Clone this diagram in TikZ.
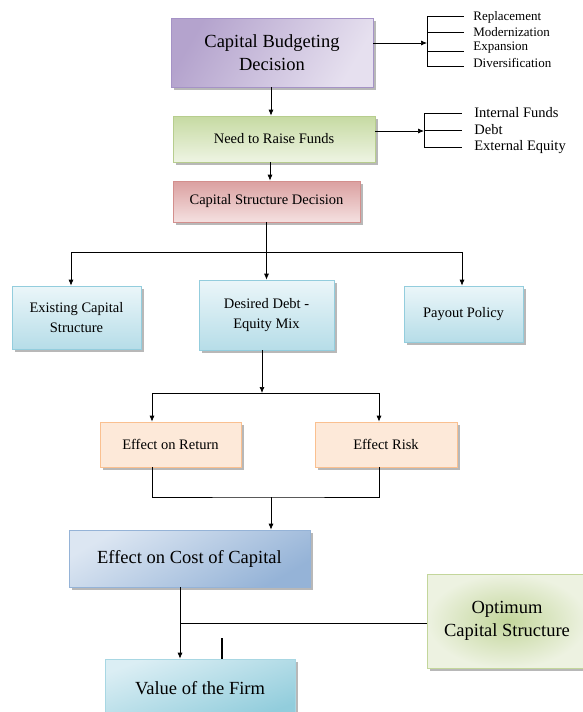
\documentclass[tikz,border=0pt]{standalone}
\usepackage{fontspec}
\setmainfont{Liberation Serif}
\usepackage{tikz}
\usetikzlibrary{shapes,positioning,calc,shadows,arrows.meta}

\definecolor{cbdLight}{HTML}{E6E0EF}
\definecolor{cbdDark}{HTML}{B4A3CD}
\definecolor{cbdLine}{HTML}{A593C6}
\definecolor{needDark}{HTML}{C6DAA2}
\definecolor{needLight}{HTML}{EEF4E3}
\definecolor{needLine}{HTML}{B7CD8E}
\definecolor{csdDark}{HTML}{DBA0A0}
\definecolor{csdLight}{HTML}{F4E0E0}
\definecolor{csdLine}{HTML}{D38F8D}
\definecolor{aquaLight}{HTML}{EBF6F9}
\definecolor{aquaDark}{HTML}{B6DDE8}
\definecolor{aquaLine}{HTML}{93CDDD}
\definecolor{peachFill}{HTML}{FDE9D9}
\definecolor{peachLine}{HTML}{FAC090}
\definecolor{costLight}{HTML}{DCE6F2}
\definecolor{costDark}{HTML}{95B3D7}
\definecolor{firmLight}{HTML}{DBEEF4}
\definecolor{firmDark}{HTML}{92CDDC}
\definecolor{optLight}{HTML}{EDF2E1}
\definecolor{optDark}{HTML}{C3D69B}
\definecolor{shadowGray}{HTML}{B8B8B8}

\tikzset{
	box/.style={draw, align=center, inner sep=0pt, line width=0.7pt,
		general shadow={shadow xshift=2.5pt, shadow yshift=-2.5pt, fill=shadowGray}},
	big/.style={font=\fontsize{18.5}{23}\selectfont},
	mid/.style={font=\fontsize{14.5}{20}\selectfont},
	aquabox/.style={box, mid, draw=aquaLine, top color=aquaLight, bottom color=aquaDark},
	peachbox/.style={box, mid, draw=peachLine, fill=peachFill},
	item/.style={anchor=west, inner sep=0pt},
	arr/.style={-{Latex[length=6pt,width=5pt]}}
}

\begin{document}
\begin{tikzpicture}[x=1pt, y=-1pt, line width=0.7pt]
	\useasboundingbox (0,0) rectangle (582,712);

	\node[box, big,
		draw=cbdLine,
		left color=cbdDark,
		right color=cbdLight,
		shading angle=60,
		minimum width=202pt,
		minimum height=69pt
	] (cbd) at (272,52.5) {Capital Budgeting\\Decision};

	\node[box, mid,
		draw=needLine,
		top color=needDark,
		bottom color=needLight,
		minimum width=202pt,
		minimum height=46pt
	] (need) at (274,139) {Need to Raise Funds};

	\node[box, mid,
		draw=csdLine,
		top color=csdDark,
		bottom color=csdLight,
		minimum width=187pt,
		minimum height=41pt
	] (csd) at (266.5,201.5) {Capital Structure Decision};

	\node[aquabox,
		minimum width=129pt,
		minimum height=63pt
	] (exist) at (76.5,317.5) {Existing Capital\\Structure};

	\node[aquabox,
		minimum width=135pt,
		minimum height=70pt
	] (desired) at (266.5,315) {Desired Debt -\\Equity Mix};

	\node[aquabox,
		minimum width=119pt,
		minimum height=56pt
	] (payout) at (463.5,314) {Payout Policy};

	\node[peachbox,
		minimum width=141pt,
		minimum height=45pt
	] (ret) at (170.5,444.5) {Effect on Return};

	\node[peachbox,
		minimum width=142pt,
		minimum height=45pt
	] (risk) at (386,444.5) {Effect Risk};

	\node[box, big,
		draw=costDark,
		left color=costLight,
		right color=costDark,
		shading angle=30,
		minimum width=241pt,
		minimum height=57pt
	] (cost) at (189.5,558.5) {Effect on Cost of Capital};

	\node[box, big,
		draw=firmDark!80,
		left color=firmLight,
		right color=firmDark,
		shading angle=20,
		minimum width=190pt,
		minimum height=58pt
	] (firm) at (200,688) {Value of the Firm};

	\node[box, big,
		draw=optDark,
		inner color=optDark,
		outer color=optLight,
		minimum width=160pt,
		minimum height=94pt
	] (optimum) at (507,621) {Optimum\\Capital Structure};

	% uses of capital budgeting
	\node[item, font=\fontsize{13}{15}\selectfont] (repl) at (473,17) {Replacement};
	\node[item, font=\fontsize{13}{15}\selectfont] (modern) at (473,32) {Modernization};
	\node[item, font=\fontsize{13}{15}\selectfont] (expan) at (473,48) {Expansion};
	\node[item, font=\fontsize{13}{15}\selectfont] (divers) at (473,63) {Diversification};
	\coordinate (brA) at (427,43);

	% sources of funds
	\node[item, mid] (internal) at (474,113) {Internal Funds};
	\node[item, mid] (debt) at (474,130) {Debt};
	\node[item, mid] (external) at (474,147) {External Equity};
	\coordinate (brB) at (424,131);

	\coordinate (forkA) at (266.5,252);
	\coordinate (forkB) at (262,393);
	\coordinate (join) at (271,497);
	\coordinate (tap) at (180,587);

	\draw[arr] ([yshift=9.5pt]cbd.east) -- (brA);
	\draw ([yshift=1pt]repl.west -| brA) -- ([yshift=-3pt]divers.west -| brA);
	\foreach \lbl/\dy in {repl/1, modern/0, expan/-3, divers/-3}
		\draw ([yshift=\dy pt]\lbl.west -| brA) -- ([xshift=-9pt, yshift=\dy pt]\lbl.west);

	\draw[arr] ([yshift=8pt]need.east) -- (brB);
	\draw (internal.west -| brB) -- (external.west -| brB);
	\foreach \lbl in {internal, debt, external}
		\draw (\lbl.west -| brB) -- ([xshift=-12pt]\lbl.west);

	\draw[arr] ([xshift=-1pt]cbd.south) -- ([xshift=-1pt]cbd.south |- need.north);
	\draw[arr] ([xshift=-4pt]need.south) -- ([xshift=-4pt]need.south |- csd.north);
	\draw[arr] (csd.south) -- (desired.north);
	\draw[arr] (forkA) -| ([xshift=-5.5pt]exist.north);
	\draw[arr] (forkA) -| ([xshift=-1.5pt]payout.north);

	\draw[arr] (desired.south -| forkB) -- (forkB);
	\draw[arr] (forkB) -| ([xshift=-18.5pt]ret.north);
	\draw[arr] (forkB) -| ([xshift=-7pt]risk.north);

	\draw ([xshift=-18.5pt]ret.south) |- (join) -| ([xshift=-7pt]risk.south);
	\draw[arr] (join) -- (join |- cost.north);

	\draw[arr] (tap) -- (tap |- firm.north);
	\draw ([yshift=-2pt]optimum.west) -- ([yshift=-2pt]optimum.west -| tap);
	\draw[line width=1.6pt] ([xshift=22pt]firm.north) -- ++(0,-21);
\end{tikzpicture}
\end{document}
